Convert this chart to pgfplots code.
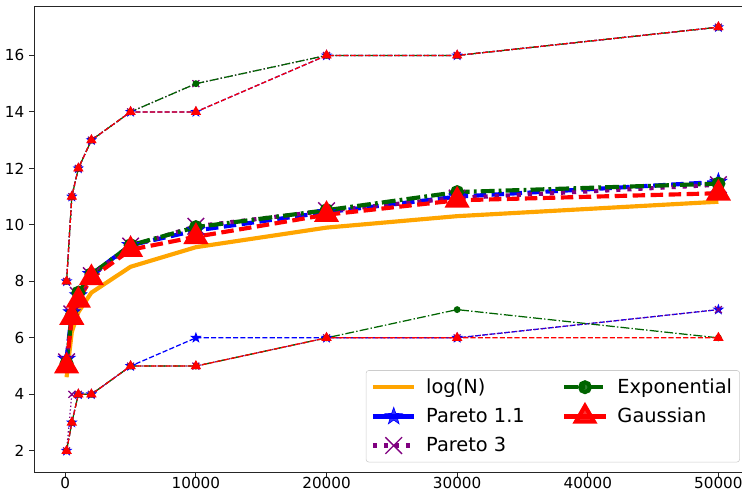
\documentclass[border=0pt]{standalone}
\usepackage{pgfplots}
\usepackage{pgfplotstable}
\usepackage{fontspec}
\setmainfont{DejaVu Sans}
\pgfplotsset{compat=1.18}

% filled five-point star, like matplotlib's '*'
\pgfdeclareplotmark{fstar}{%
  \pgfpathmoveto{\pgfpointpolar{90}{\pgfplotmarksize}}%
  \pgfpathlineto{\pgfpointpolar{126}{0.4\pgfplotmarksize}}%
  \pgfpathlineto{\pgfpointpolar{162}{\pgfplotmarksize}}%
  \pgfpathlineto{\pgfpointpolar{198}{0.4\pgfplotmarksize}}%
  \pgfpathlineto{\pgfpointpolar{234}{\pgfplotmarksize}}%
  \pgfpathlineto{\pgfpointpolar{270}{0.4\pgfplotmarksize}}%
  \pgfpathlineto{\pgfpointpolar{306}{\pgfplotmarksize}}%
  \pgfpathlineto{\pgfpointpolar{342}{0.4\pgfplotmarksize}}%
  \pgfpathlineto{\pgfpointpolar{18}{\pgfplotmarksize}}%
  \pgfpathlineto{\pgfpointpolar{54}{0.4\pgfplotmarksize}}%
  \pgfpathclose\pgfusepathqfillstroke}

\definecolor{mplorange}{RGB}{255,165,0}
\definecolor{mplblue}{RGB}{0,0,255}
\definecolor{mplpurple}{RGB}{128,0,128}
\definecolor{mplgreen}{RGB}{0,100,0}
\definecolor{mplred}{RGB}{255,0,0}

% N, log(N), then mean / max / min per distribution
\pgfplotstableread{
N     logn   pa   pamax pamin pb    pbmax pbmin ex    exmax exmin ga    gamax gamin
100   4.605  5.25 8     2     5.15  8     2     5.10  8     2     5.00  8     2
500   6.215  6.90 11    3     6.85  11    4     6.80  11    3     6.72  11    3
1000  6.908  7.50 12    4     7.50  12    4     7.60  12    4     7.33  12    4
2000  7.601  8.25 13    4     8.20  13    4     8.25  13    4     8.12  13    4
5000  8.517  9.28 14    5     9.25  14    5     9.28  14    5     9.12  14    5
10000 9.210  9.80 14    6     9.95  15    5     9.92  15    5     9.58  14    5
20000 9.903  10.45 16   6     10.50 16    6     10.52 16    6     10.36 16    6
30000 10.309 11.00 16   6     10.95 16    6     11.16 16    7     10.87 16    6
50000 10.820 11.52 17   7     11.42 17    7     11.46 17    6     11.12 17    6
}\data

\begin{document}
\begin{tikzpicture}
\begin{axis}[
    scale only axis,
    width=518.2pt, height=336.8pt,
    xmin=-2395, xmax=52495,
    ymin=1.25, ymax=17.75,
    xtick={0,10000,20000,30000,40000,50000},
    ytick={2,4,6,8,10,12,14,16},
    scaled x ticks=false,
    xticklabel style={/pgf/number format/1000 sep={}, yshift=3pt},
    /pgf/number format/assume math mode=true,
    ticklabel style={font=\fontsize{11}{13}\selectfont},
    xtick pos=bottom, ytick pos=left,
    tick align=outside,
    major tick length=3.5pt,
    tick style={black!85, line width=0.6pt},
    axis line style={black!85, line width=0.6pt},
    legend columns=2,
    legend cell align=left,
    legend style={at={(1,0)}, anchor=south east, xshift=-8pt, yshift=7pt,
      draw=black!20, rounded corners=2pt, fill=white, fill opacity=0.8,
      text opacity=1, font=\fontsize{14}{16}\selectfont,
      inner xsep=3.5pt, inner ysep=4pt, row sep=5pt,
      /tikz/every odd column/.append style={column sep=5pt},
      /tikz/every even column/.append style={column sep=25pt}},
    legend image code/.code={%
      \draw[mark repeat=2,mark phase=2,#1]
        plot coordinates {(0pt,0pt) (15pt,0pt) (30pt,0pt)};},
    every axis plot/.append style={forget plot},
  ]
  % log(N)
  \addplot[mplorange, line width=3pt] table[x=N, y=logn] {\data};

  % Pareto 1.1
  \addplot[mplblue, line width=3pt, dash pattern=on 9pt off 4pt,
    mark=fstar, mark size=6.5pt, mark options={solid, line width=0.5pt}]
    table[x=N, y=pa] {\data};
  \addplot[mplblue, line width=0.9pt, dash pattern=on 3.7pt off 1.6pt,
    mark=fstar, mark size=3pt, mark options={solid}]
    table[x=N, y=pamax] {\data};
  \addplot[mplblue, line width=0.9pt, dash pattern=on 3.7pt off 1.6pt,
    mark=fstar, mark size=3pt, mark options={solid}]
    table[x=N, y=pamin] {\data};

  % Pareto 3
  \addplot[mplpurple, line width=3pt, dash pattern=on 3pt off 5pt,
    mark=x, mark size=8.5pt, mark options={solid, line width=1pt}]
    table[x=N, y=pb] {\data};
  \addplot[mplpurple, line width=0.9pt, dash pattern=on 1pt off 1.65pt,
    mark=x, mark size=3.5pt, mark options={solid}]
    table[x=N, y=pbmax] {\data};
  \addplot[mplpurple, line width=0.9pt, dash pattern=on 1pt off 1.65pt,
    mark=x, mark size=3.5pt, mark options={solid}]
    table[x=N, y=pbmin] {\data};

  % Exponential
  \addplot[mplgreen, line width=3pt, dash pattern=on 10pt off 3pt on 2pt off 3pt,
    mark=*, mark size=3.5pt, mark options={solid}]
    table[x=N, y=ex] {\data};
  \addplot[mplgreen, line width=0.9pt, dash pattern=on 6.4pt off 1.6pt on 1pt off 1.6pt,
    mark=*, mark size=2pt, mark options={solid}]
    table[x=N, y=exmax] {\data};
  \addplot[mplgreen, line width=0.9pt, dash pattern=on 6.4pt off 1.6pt on 1pt off 1.6pt,
    mark=*, mark size=2pt, mark options={solid}]
    table[x=N, y=exmin] {\data};

  % Gaussian
  \addplot[mplred, line width=3pt, dash pattern=on 9pt off 4pt,
    mark=triangle*, mark size=7.5pt, mark options={solid}]
    table[x=N, y=ga] {\data};
  \addplot[mplred, line width=0.9pt, dash pattern=on 3.7pt off 1.6pt,
    mark=triangle*, mark size=3.5pt, mark options={solid}]
    table[x=N, y=gamax] {\data};
  \addplot[mplred, line width=0.9pt, dash pattern=on 3.7pt off 1.6pt,
    mark=triangle*, mark size=3.5pt, mark options={solid}]
    table[x=N, y=gamin] {\data};

  % legend, filled column by column as in the original
  \addlegendimage{mplorange, line width=3pt}
  \addlegendentry{log(N)}
  \addlegendimage{mplgreen, line width=3pt, dash pattern=on 10pt off 3pt on 2pt off 3pt,
    mark=*, mark size=3.5pt, mark options={solid}}
  \addlegendentry{Exponential}
  \addlegendimage{mplblue, line width=3pt, mark=fstar, mark size=6.5pt,
    mark options={solid, line width=0.5pt}}
  \addlegendentry{Pareto 1.1}
  \addlegendimage{mplred, line width=3pt, mark=triangle*, mark size=7.5pt,
    mark options={solid}}
  \addlegendentry{Gaussian}
  \addlegendimage{mplpurple, line width=3pt, dash pattern=on 3pt off 5pt,
    mark=x, mark size=8.5pt, mark options={solid, line width=1pt}}
  \addlegendentry{Pareto 3}

  \coordinate (bl) at (rel axis cs:0,0);
  \coordinate (tl) at (rel axis cs:0,1);
\end{axis}
\pgfresetboundingbox
\path[use as bounding box] ([xshift=-24.57pt, yshift=-14.45pt]bl)
  rectangle ([xshift=511.7pt, yshift=4.34pt]tl);
\end{tikzpicture}
\end{document}
